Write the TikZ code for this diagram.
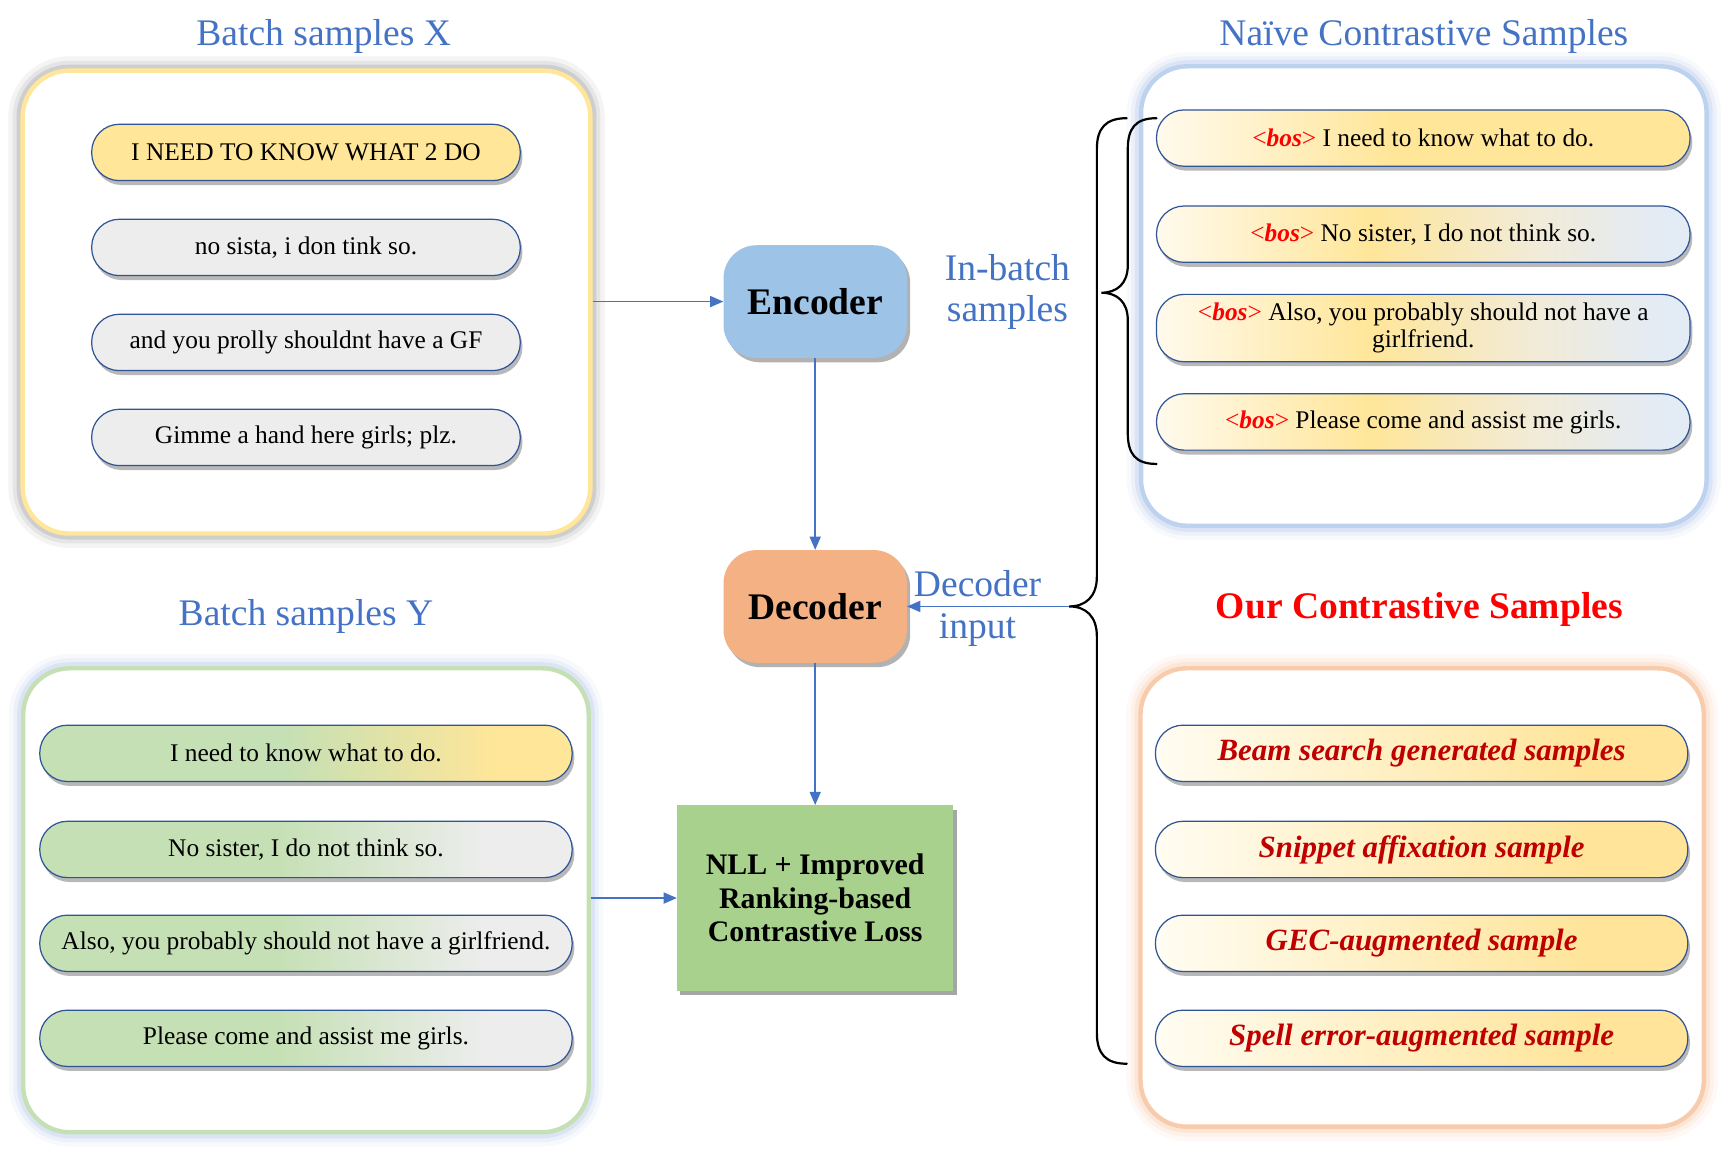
\documentclass[tikz,border=0pt]{standalone}
\usepackage{fontspec}
\setmainfont{Liberation Serif}
\usetikzlibrary{arrows.meta,shadows}
\definecolor{tblue}{HTML}{4472C4}
\definecolor{pillborder}{HTML}{2F5597}
\definecolor{xyellow}{HTML}{FFE699}
\definecolor{xgray}{HTML}{EDEDED}
\definecolor{encblue}{HTML}{9DC3E6}
\definecolor{decorange}{HTML}{F4B183}
\definecolor{lossgreen}{HTML}{A9D18E}
\definecolor{ygreen}{HTML}{C5E0B4}
\definecolor{nblue}{HTML}{BDD2EE}
\definecolor{nglow}{HTML}{8FAADC}
\definecolor{oorange}{HTML}{F8CBAD}
\definecolor{oglow}{HTML}{F4B183}
\definecolor{darkred}{HTML}{C00000}
\pgfdeclarehorizontalshading{naiveA}{100bp}{rgb(0bp)=(1,0.98,0.93); rgb(25bp)=(1,0.98,0.93); rgb(47bp)=(1,0.902,0.6); rgb(100bp)=(1,0.902,0.6)}
\pgfdeclarehorizontalshading{naiveB}{100bp}{rgb(0bp)=(1,0.98,0.93); rgb(25bp)=(1,0.98,0.93); rgb(45bp)=(1,0.902,0.6); rgb(60bp)=(0.95,0.92,0.84); rgb(72bp)=(0.89,0.92,0.96); rgb(100bp)=(0.89,0.92,0.96)}
\pgfdeclarehorizontalshading{oursA}{100bp}{rgb(0bp)=(1,0.99,0.95); rgb(25bp)=(1,0.99,0.95); rgb(66bp)=(1,0.895,0.6); rgb(100bp)=(1,0.895,0.6)}
\pgfdeclarehorizontalshading{yA}{100bp}{rgb(0bp)=(0.773,0.878,0.706); rgb(48bp)=(0.773,0.878,0.706); rgb(68bp)=(1,0.902,0.6); rgb(100bp)=(1,0.902,0.6)}
\pgfdeclarehorizontalshading{yB}{100bp}{rgb(0bp)=(0.773,0.878,0.706); rgb(47bp)=(0.773,0.878,0.706); rgb(67bp)=(0.93,0.93,0.93); rgb(100bp)=(0.93,0.93,0.93)}
\newcommand{\bos}{{\color{red}<\textbf{\textit{bos}}>}}
\begin{document}
\begin{tikzpicture}[x=1pt,y=-1pt,
  pill/.style={draw=pillborder, line width=1.1pt, rounded corners=25pt,
    minimum height=51pt, inner sep=0pt, align=center,
    font=\fontsize{23}{25}\selectfont,
    drop shadow={shadow xshift=2pt, shadow yshift=-4pt, opacity=0.28, fill=black}},
  ourpill/.style={pill, shade, shading=oursA,
    font=\fontsize{28}{30}\selectfont\bfseries\itshape, text=darkred},
  outerbox/.style={rounded corners=42pt, line width=4pt, fill=white, inner sep=0pt},
  glow/.style={preaction={draw=#1, draw opacity=0.07, line width=26pt},
    preaction={draw=#1, draw opacity=0.11, line width=18pt},
    preaction={draw=#1, draw opacity=0.18, line width=11pt}},
  title/.style={anchor=base, text=tblue, font=\fontsize{34}{37}\selectfont},
  blocknode/.style={rounded corners=30pt, minimum width=166pt, minimum height=102pt,
    inner sep=0pt, font=\fontsize{34}{37}\selectfont\bfseries,
    drop shadow={shadow xshift=3pt, shadow yshift=-4pt, opacity=0.3, fill=black}},
  arr/.style={draw=tblue, line width=1.5pt, -{Triangle[length=12pt,width=10pt]}},
  bracel/.style={draw=black, line width=2pt, line cap=round}
]
\useasboundingbox (0,0) rectangle (1568,1047);

% titles
\node[title] (tx) at (293,41) {Batch samples X};
\node[title] (tn) at (1289,41) {Naïve Contrastive Samples};
\node[title] (ty) at (277,566) {Batch samples Y};
\node[title, text=red, font=\fontsize{34}{37}\selectfont\bfseries] (to) at (1285,560) {Our Contrastive Samples};

% outer boxes
\node[outerbox, glow=black!60, draw=xyellow, minimum width=514pt, minimum height=419pt] (xbox) at (277.5,273.5) {};
\node[outerbox, glow=nglow, draw=nblue, minimum width=512pt, minimum height=416pt] (nbox) at (1289,268) {};
\node[outerbox, glow=nglow, draw=ygreen, minimum width=512pt, minimum height=420pt] (ybox) at (277,815) {};
\node[outerbox, glow=oglow, draw=oorange, minimum width=510pt, minimum height=415pt] (obox) at (1287.5,812.5) {};

% X pills
\node[pill, fill=xyellow, minimum width=388pt] (x1) at (277,138) {I NEED TO KNOW WHAT 2 DO};
\node[pill, fill=xgray, minimum width=388pt] (x2) at (277,224) {no sista, i don tink so.};
\node[pill, fill=xgray, minimum width=388pt] (x3) at (277,310) {and you prolly shouldnt have a GF};
\node[pill, fill=xgray, minimum width=388pt] (x4) at (277,396) {Gimme a hand here girls; plz.};

% Naive pills
\node[pill, shade, shading=naiveA, minimum width=483pt] (n1) at (1288.5,125) {\bos{} I need to know what to do.};
\node[pill, shade, shading=naiveB, minimum width=483pt] (n2) at (1288.5,212) {\bos{} No sister, I do not think so.};
\node[pill, shade, shading=naiveB, minimum width=483pt, minimum height=61pt] (n3) at (1288.5,297) {\bos{} Also, you probably should not have a\\girlfriend.};
\node[pill, shade, shading=naiveB, minimum width=483pt] (n4) at (1288.5,382) {\bos{} Please come and assist me girls.};

% Y pills
\node[pill, shade, shading=yA, minimum width=482pt] (y1) at (277,682) {I need to know what to do.};
\node[pill, shade, shading=yB, minimum width=482pt] (y2) at (277,769) {No sister, I do not think so.};
\node[pill, shade, shading=yB, minimum width=482pt] (y3) at (277,854) {Also, you probably should not have a girlfriend.};
\node[pill, shade, shading=yB, minimum width=482pt] (y4) at (277,940) {Please come and assist me girls.};

% Our pills
\node[ourpill, minimum width=482pt] (o1) at (1287,682) {Beam search generated samples};
\node[ourpill, minimum width=482pt] (o2) at (1287,769) {Snippet affixation sample};
\node[ourpill, minimum width=482pt] (o3) at (1287,854) {GEC-augmented sample};
\node[ourpill, minimum width=482pt] (o4) at (1287,940) {Spell error-augmented sample};

% central blocks
\node[blocknode, fill=encblue] (enc) at (738,273) {Encoder};
\node[blocknode, fill=decorange] (dec) at (738,549) {Decoder};
\node[fill=lossgreen, minimum width=250pt, minimum height=168pt, inner sep=0pt, align=center,
  font=\fontsize{27}{30.5}\selectfont\bfseries,
  drop shadow={shadow xshift=3pt, shadow yshift=-4pt, opacity=0.35, fill=black}] (loss) at (738,813)
  {NLL + Improved\\Ranking-based\\Contrastive Loss};

% side labels
\node[align=center, text=tblue, font=\fontsize{34}{37}\selectfont] (lib) at (912,264) {In-batch\\samples};
\node[align=center, text=tblue, font=\fontsize{34}{38}\selectfont] (ldi) at (885,551) {Decoder\\input};

% braces
\coordinate (bigtip) at (968,549);
\coordinate (smalltip) at (997,265);
\draw[bracel] (1020,107) .. controls (1001,107) and (993,116) .. (993,135)
  -- (993,522) .. controls (993,540) and (983,549) .. (bigtip)
  .. controls (983,549) and (993,558) .. (993,576)
  -- (993,935) .. controls (993,954) and (1001,963) .. (1020,963);
\draw[bracel] (1047,107) .. controls (1028,107) and (1021,116) .. (1021,135)
  -- (1021,240) .. controls (1021,257) and (1011,265) .. (smalltip)
  .. controls (1011,265) and (1021,273) .. (1021,290)
  -- (1021,392) .. controls (1021,411) and (1028,420) .. (1047,420);

% connectors
\draw[arr] (xbox.east |- enc.west) -- (enc.west);
\draw[arr] (enc.south) -- (dec.north);
\draw[arr] (dec.south) -- (loss.north);
\draw[arr] (ybox.east |- loss.west) -- (loss.west);
\draw[arr] (bigtip) -- (dec.east);
\end{tikzpicture}
\end{document}
